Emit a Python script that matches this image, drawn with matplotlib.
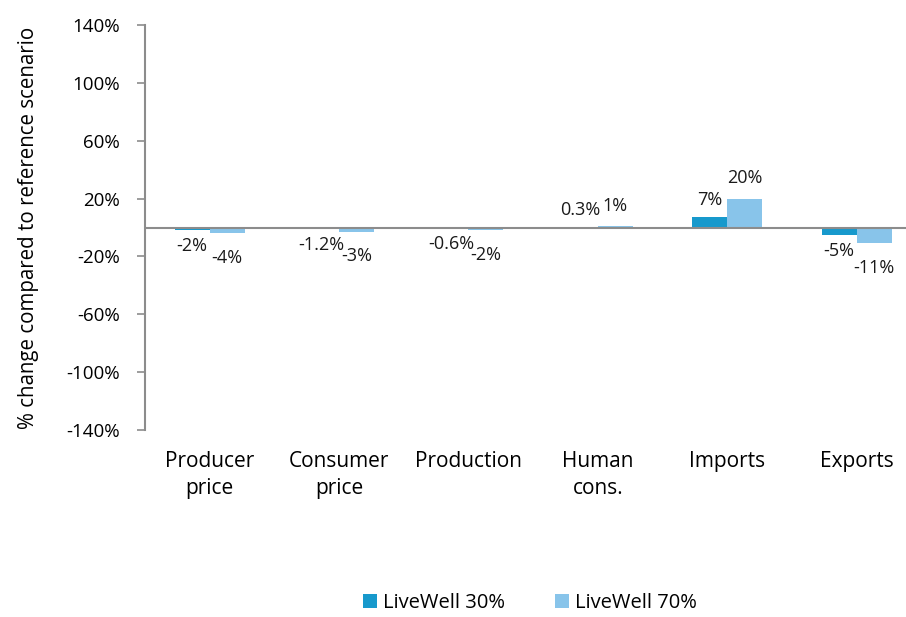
import numpy as np
import matplotlib
matplotlib.use("Agg")
import matplotlib.pyplot as plt

categories = ["Producer\nprice", "Consumer\nprice", "Production", "Human\ncons.", "Imports", "Exports"]
livewell_30 = [-2, -1.2, -0.6, 0.3, 7, -5]
livewell_70 = [-4, -3, -2, 1, 20, -11]
labels_30 = ["-2%", "-1.2%", "-0.6%", "0.3%", "7%", "-5%"]
labels_70 = ["-4%", "-3%", "-2%", "1%", "20%", "-11%"]
yticks = [-140, -100, -60, -20, 20, 60, 100, 140]

plt.rcParams["font.family"] = ["Open Sans", "DejaVu Sans"]

fig = plt.figure(figsize=(9.06, 6.17), dpi=100)
ax = fig.add_axes([0.16, 0.303, 0.857, 0.6565])

x = np.arange(len(categories))
w = 0.27
dark = "#1799CC"
light = "#88C4EA"
b1 = ax.bar(x - w / 2, livewell_30, w, color=dark, label="LiveWell 30%")
b2 = ax.bar(x + w / 2, livewell_70, w, color=light, label="LiveWell 70%")

# label offsets (points): dark series sits closer to the bar than light series
for bars, vals, labs, up, down in [(b1, livewell_30, labels_30, 6, -5),
                                   (b2, livewell_70, labels_70, 8, -11)]:
    for bar, v, lab in zip(bars, vals, labs):
        cx = bar.get_x() + bar.get_width() / 2
        if v >= 0:
            ax.annotate(lab, (cx, v), xytext=(0, up), textcoords="offset points",
                        ha="center", va="bottom", fontsize=13, color="#1a1a1a")
        else:
            ax.annotate(lab, (cx, v), xytext=(0, down), textcoords="offset points",
                        ha="center", va="top", fontsize=13, color="#1a1a1a")

ax.axhline(0, color="#8c8c8c", lw=1.5)
ax.set_ylim(-140, 140)
ax.set_xlim(-0.5, len(categories) - 0.5)
ax.set_yticks(yticks)
ax.set_yticklabels([f"{t}%" for t in yticks], fontsize=13.5)
ax.set_xticks(x)
ax.set_xticklabels(categories, fontsize=15, linespacing=1.4)
ax.tick_params(axis="x", length=0, pad=15)
ax.tick_params(axis="y", length=6, color="#8c8c8c", width=1.2, pad=12)
for s in ["top", "right", "bottom"]:
    ax.spines[s].set_visible(False)
ax.spines["left"].set_color("#8c8c8c")
ax.spines["left"].set_linewidth(1.5)
ax.set_ylabel("% change compared to reference scenario", fontsize=14.8, labelpad=20)

fig.legend(handles=[b1, b2], loc="center", bbox_to_anchor=(0.585, 0.022),
           ncol=2, frameon=False, fontsize=14.5, handlelength=0.7,
           handleheight=0.7, columnspacing=2.5, handletextpad=0.3,
           borderpad=0.1)

fig.savefig("out.png", dpi=100)
